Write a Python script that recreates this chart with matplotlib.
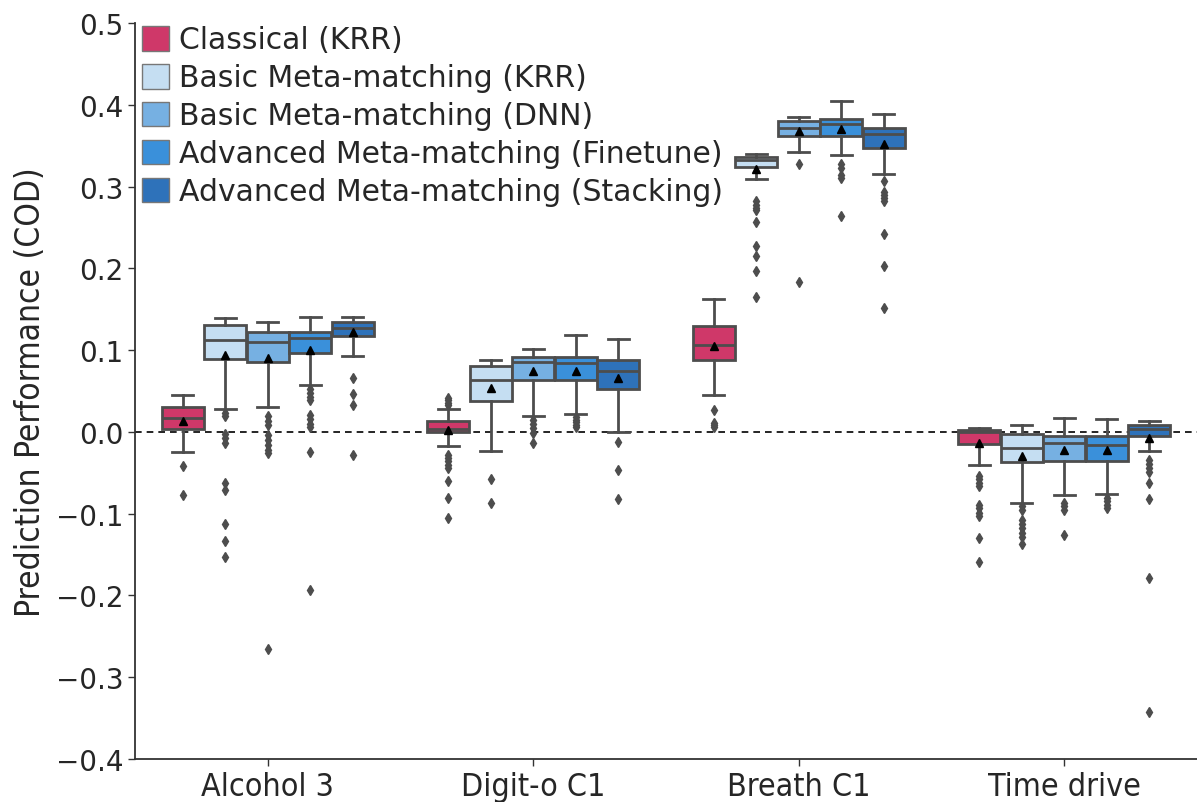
import matplotlib
matplotlib.use("Agg")
import matplotlib.pyplot as plt
from matplotlib.patches import Patch

categories = ["Alcohol 3", "Digit-o C1", "Breath C1", "Time drive"]
methods = ["Classical (KRR)", "Basic Meta-matching (KRR)", "Basic Meta-matching (DNN)",
           "Advanced Meta-matching (Finetune)", "Advanced Meta-matching (Stacking)"]
colors = ["#CF3869", "#C5DEF2", "#76B0E2", "#3A90DA", "#2E72BA"]

# per category: one value per method
whislo = [[-0.025, 0.028, 0.030, 0.057, 0.093],
          [-0.017, -0.023, 0.020, 0.022, 0.000],
          [0.045, 0.309, 0.342, 0.339, 0.316],
          [-0.041, -0.087, -0.077, -0.076, -0.023]]
q1 = [[0.003, 0.089, 0.085, 0.096, 0.117],
      [0.000, 0.038, 0.064, 0.064, 0.052],
      [0.088, 0.324, 0.362, 0.362, 0.347],
      [-0.015, -0.037, -0.035, -0.035, -0.005]]
med = [[0.017, 0.113, 0.110, 0.115, 0.127],
       [0.004, 0.063, 0.085, 0.084, 0.074],
       [0.106, 0.333, 0.372, 0.377, 0.364],
       [0.000, -0.020, -0.013, -0.016, 0.004]]
q3 = [[0.030, 0.131, 0.122, 0.122, 0.135],
      [0.013, 0.081, 0.092, 0.092, 0.088],
      [0.129, 0.336, 0.380, 0.383, 0.372],
      [0.002, -0.003, -0.005, -0.005, 0.009]]
whishi = [[0.045, 0.139, 0.135, 0.141, 0.141],
          [0.028, 0.088, 0.101, 0.118, 0.114],
          [0.163, 0.340, 0.385, 0.405, 0.389],
          [0.005, 0.008, 0.017, 0.016, 0.014]]
means = [[0.014, 0.094, 0.091, 0.100, 0.122],
         [0.002, 0.054, 0.074, 0.075, 0.066],
         [0.105, 0.321, 0.368, 0.370, 0.352],
         [-0.014, -0.029, -0.022, -0.022, -0.007]]
fliers = [
    [[-0.042, -0.077],
     [0.023, 0.019, -0.003, -0.008, -0.014, -0.062, -0.071, -0.112, -0.133, -0.153],
     [0.020, 0.014, 0.009, -0.004, -0.010, -0.016, -0.022, -0.026, -0.265],
     [0.053, 0.048, 0.043, 0.039, 0.021, 0.016, 0.010, 0.006, -0.024, -0.193],
     [0.066, 0.046, 0.033, -0.028]],
    [[0.042, 0.039, 0.036, 0.033, -0.028, -0.032, -0.036, -0.040, -0.044, -0.060, -0.081, -0.105],
     [-0.058, -0.087],
     [0.015, 0.010, 0.005, -0.001, -0.013],
     [0.018, 0.015, 0.012, 0.009, 0.006],
     [-0.012, -0.046, -0.082]],
    [[0.027, 0.011, 0.008, 0.006],
     [0.282, 0.278, 0.274, 0.272, 0.257, 0.227, 0.215, 0.197, 0.165],
     [0.328, 0.183],
     [0.328, 0.323, 0.314, 0.310, 0.264],
     [0.307, 0.294, 0.290, 0.286, 0.282, 0.242, 0.203, 0.152]],
    [[-0.054, -0.058, -0.062, -0.066, -0.089, -0.093, -0.099, -0.103, -0.130, -0.159],
     [-0.091, -0.095, -0.108, -0.113, -0.118, -0.124, -0.129, -0.137],
     [-0.087, -0.091, -0.095, -0.126],
     [-0.081, -0.085, -0.089, -0.093],
     [-0.034, -0.039, -0.044, -0.049, -0.062, -0.082, -0.179, -0.342]],
]

plt.rcParams["font.family"] = ["DejaVu Sans"]
fig = plt.figure(figsize=(11.97, 8.03), dpi=100)
ax = fig.add_axes([0.1128, 0.0535, 0.8872, 0.9165])

edge = "#4d4d4d"
n = len(methods)
step = 0.8 / n
for i in range(len(categories)):
    for j in range(n):
        st = dict(whislo=whislo[i][j], q1=q1[i][j], med=med[i][j], q3=q3[i][j],
                  whishi=whishi[i][j], mean=means[i][j], fliers=fliers[i][j])
        pos = i + (j - (n - 1) / 2) * step
        ax.bxp([st], positions=[pos], widths=step * 0.98, patch_artist=True,
               showmeans=True, showfliers=True, manage_ticks=False,
               boxprops=dict(facecolor=colors[j], edgecolor=edge, linewidth=2.0),
               medianprops=dict(color=edge, linewidth=2.0),
               whiskerprops=dict(color=edge, linewidth=2.0),
               capprops=dict(color=edge, linewidth=2.0),
               capwidths=step * 0.49,
               meanprops=dict(marker="^", markerfacecolor="black", markeredgecolor="black",
                              markersize=6),
               flierprops=dict(marker="d", markerfacecolor=edge, markeredgecolor=edge,
                               markersize=5))

ax.axhline(0, color="black", linestyle=(0, (4, 3)), linewidth=1.2, zorder=0.5)

ax.set_xlim(-0.5, len(categories) - 0.5)
ax.set_ylim(-0.4, 0.5)
ax.set_xticks(range(len(categories)))
ax.set_xticklabels(categories, fontsize=23, fontstretch="condensed", color="#262626")
ax.set_yticks([-0.4, -0.3, -0.2, -0.1, 0.0, 0.1, 0.2, 0.3, 0.4, 0.5])
ax.set_yticklabels(["\u22120.4", "\u22120.3", "\u22120.2", "\u22120.1", "0.0", "0.1", "0.2",
                    "0.3", "0.4", "0.5"], fontsize=20, color="#262626")
ax.set_ylabel("Prediction Performance (COD)", fontsize=24, fontstretch="condensed",
              color="#262626", labelpad=6)
ax.spines["top"].set_visible(False)
ax.spines["right"].set_visible(False)
for s in ("left", "bottom"):
    ax.spines[s].set_color("#333333")
    ax.spines[s].set_linewidth(1.3)
ax.tick_params(axis="both", length=5, width=1.0, color="#333333")

handles = [Patch(facecolor=c, edgecolor="#777777", linewidth=1.0) for c in colors]
ax.legend(handles, methods, loc="upper left", bbox_to_anchor=(-0.005, 1.013), frameon=False,
          fontsize=21.5, handlelength=0.9, handleheight=0.9, handletextpad=0.35,
          labelspacing=0.3, borderaxespad=0.0, labelcolor="#262626")

fig.savefig("out.png", dpi=100)
